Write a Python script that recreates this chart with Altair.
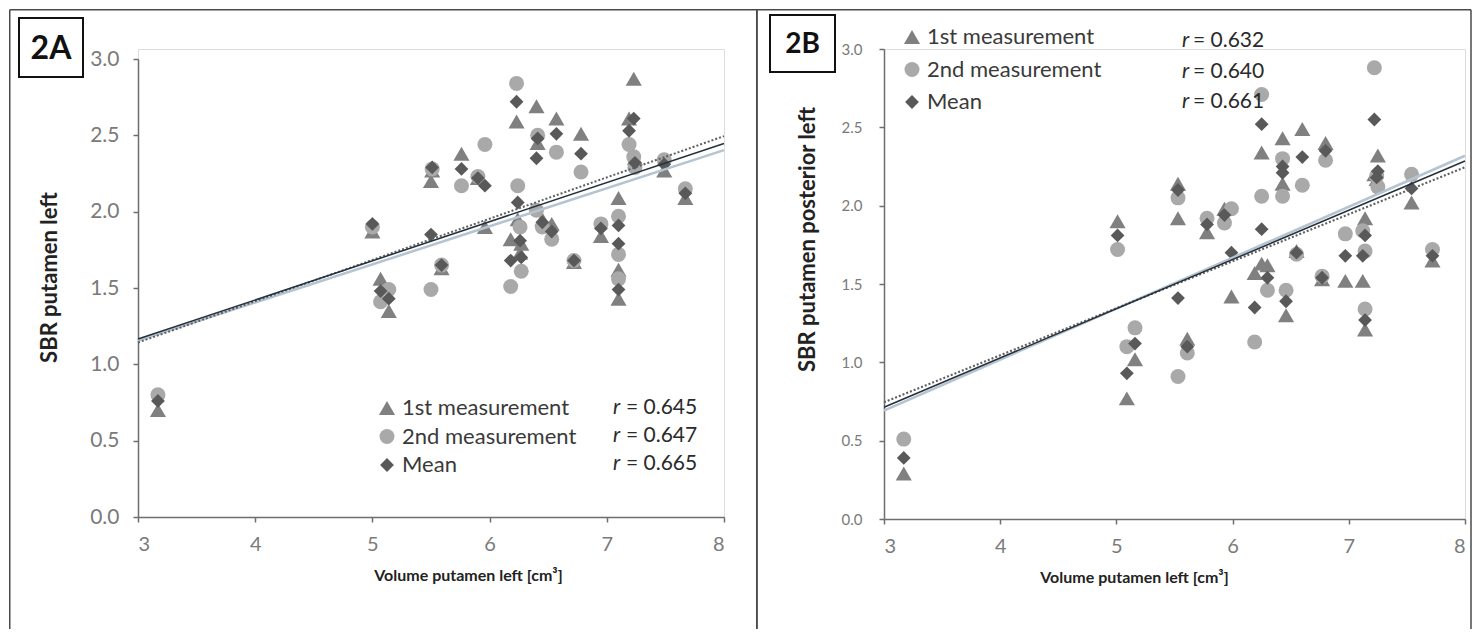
import altair as alt
import pandas as pd

SERIES = ["1st measurement", "2nd measurement", "Mean"]
SHAPES = ["triangle-up", "circle", "diamond"]
COLORS = ["#808080", "#a9a9a9", "#595959"]
SIZES = [260, 190, 210]

# ---------------- Panel 2A : SBR putamen left ----------------
A_volume = [3.17, 5.00, 5.07, 5.14, 5.50, 5.51, 5.59, 5.76, 5.90, 5.96,
            6.23, 6.24, 6.26, 6.18, 6.27, 6.40, 6.41, 6.45, 6.53, 6.57,
            6.72, 6.78, 6.95, 7.10, 7.10, 7.10, 7.23, 7.19, 7.24, 7.49, 7.67]
A_first = [0.70, 1.87, 1.56, 1.35, 2.20, 2.27, 1.63, 2.38, 2.22, 1.90,
           2.59, 1.95, 1.73, 1.82, 1.79, 2.69, 2.45, 1.95, 1.92, 2.61,
           1.67, 2.51, 1.84, 2.09, 1.62, 1.43, 2.87, 2.61, 2.35, 2.27, 2.09]
A_second = [0.80, 1.90, 1.41, 1.49, 1.49, 2.28, 1.65, 2.17, 2.23, 2.44,
            2.84, 2.17, 1.90, 1.51, 1.61, 2.01, 2.50, 1.90, 1.82, 2.39,
            1.68, 2.26, 1.92, 1.72, 1.97, 1.56, 2.36, 2.44, 2.29, 2.34, 2.15]
A_mean = [0.76, 1.92, 1.48, 1.43, 1.85, 2.29, 1.65, 2.28, 2.22, 2.17,
          2.72, 2.06, 1.81, 1.68, 1.70, 2.35, 2.48, 1.93, 1.87, 2.51,
          1.68, 2.38, 1.89, 1.91, 1.79, 1.49, 2.61, 2.53, 2.32, 2.31, 2.12]
A_r = ["0.645", "0.647", "0.665"]

# ---------------- Panel 2B : SBR putamen posterior left ----------------
B_volume = [3.17, 5.01, 5.09, 5.16, 5.53, 5.53, 5.61, 5.78, 5.93, 5.99,
            6.25, 6.25, 6.19, 6.30, 6.43, 6.43, 6.46, 6.55, 6.60, 6.77,
            6.80, 6.97, 7.12, 7.14, 7.14, 7.22, 7.25, 7.24, 7.54, 7.72]
B_first = [0.29, 1.90, 0.77, 1.02, 2.14, 1.92, 1.15, 1.83, 1.98, 1.42,
           2.34, 1.63, 1.57, 1.62, 2.43, 2.14, 1.30, 1.71, 2.49, 1.53,
           2.40, 1.52, 1.52, 1.92, 1.21, 2.20, 2.32, 2.17, 2.02, 1.65]
B_second = [0.51, 1.72, 1.10, 1.22, 2.05, 0.91, 1.06, 1.92, 1.89, 1.98,
            2.71, 2.06, 1.13, 1.46, 2.06, 2.30, 1.46, 1.69, 2.13, 1.55,
            2.29, 1.82, 1.84, 1.71, 1.34, 2.88, 2.12, 2.19, 2.20, 1.72]
B_mean = [0.39, 1.81, 0.93, 1.12, 2.10, 1.41, 1.10, 1.88, 1.94, 1.70,
          2.52, 1.85, 1.35, 1.54, 2.25, 2.21, 1.39, 1.70, 2.31, 1.54,
          2.35, 1.68, 1.68, 1.81, 1.27, 2.55, 2.22, 2.18, 2.11, 1.68]
B_r = ["0.632", "0.640", "0.661"]

X_TICKS = [3, 4, 5, 6, 7, 8]
Y_TICKS = [0.0, 0.5, 1.0, 1.5, 2.0, 2.5, 3.0]

FONT = "Lato"
LINE_STYLES = {
    "1st measurement": dict(color="#5f5f5f", strokeWidth=2, strokeDash=[2, 2]),
    "2nd measurement": dict(color="#b5c4d2", strokeWidth=2.5),
    "Mean": dict(color="#26303b", strokeWidth=1.5),
}


def long_df(vol, first, second, mean):
    rows = []
    for name, vals in zip(SERIES, [first, second, mean]):
        for v, y in zip(vol, vals):
            rows.append({"volume": v, "sbr": y, "series": name})
    return pd.DataFrame(rows)


def deco():
    return alt.Chart(alt.Data(values=[{"k": 0}]))


def panel(df, p):
    legend = alt.Legend(
        orient="none", legendX=p["legX"], legendY=p["legY"], title=None,
        labelFont=FONT, labelFontSize=22, labelColor="#3a3a3a", labelLimit=0,
        symbolSize=210, symbolStrokeWidth=0, rowPadding=p["rowPad"],
        labelOffset=4, padding=0,
    )
    xaxis = alt.Axis(
        values=X_TICKS, format="d", title="Volume putamen left [cm³]",
        labelFont=FONT, labelFontSize=20, labelColor="#7a7a7a", labelPadding=12,
        tickSize=5, tickColor="#6e6e6e", domainColor="#6e6e6e", domainWidth=1.5,
        tickWidth=1.5, grid=False,
        titleFont=FONT, titleFontSize=16, titleFontWeight="bold", titleColor="#222222",
        titleX=p["xtX"], titleY=p["xtY"], titleBaseline="middle", titleAlign="center",
    )
    yaxis = alt.Axis(
        values=Y_TICKS, format=".1f", title=p["ytitle"],
        labelFont=FONT, labelFontSize=p["ylab"], labelColor="#7a7a7a", labelPadding=p["ylabPad"],
        tickSize=5, tickColor="#6e6e6e", domainColor="#6e6e6e", domainWidth=1.5,
        tickWidth=1.5, grid=False,
        titleFont=FONT, titleFontSize=22, titleFontWeight="bold", titleColor="#222222",
        titleX=p["ytX"], titleY=p["ytY"], titleBaseline="middle", titleAlign="center",
        titleAngle=270,
    )
    xs = alt.Scale(domain=[3, 8], nice=False, zero=False)
    ys = alt.Scale(domain=[0, 3], nice=False, zero=False, range=p["yrange"])

    layers = []
    pts = alt.Chart(df).mark_point(filled=True, opacity=1, strokeWidth=0).encode(
        x=alt.X("volume:Q", scale=xs, axis=xaxis),
        y=alt.Y("sbr:Q", scale=ys, axis=yaxis),
        shape=alt.Shape("series:N", scale=alt.Scale(domain=SERIES, range=SHAPES), legend=legend),
        color=alt.Color("series:N", scale=alt.Scale(domain=SERIES, range=COLORS), legend=legend),
        size=alt.Size("series:N", scale=alt.Scale(domain=SERIES, range=SIZES), legend=None),
    )
    layers.append(pts)

    # regression lines
    for s in ["2nd measurement", "1st measurement", "Mean"]:
        layers.append(
            alt.Chart(df).transform_filter(alt.datum.series == s)
            .transform_regression("volume", "sbr", extent=[3, 8])
            .mark_line(**LINE_STYLES[s])
            .encode(x=alt.X("volume:Q", scale=xs, axis=xaxis),
                    y=alt.Y("sbr:Q", scale=ys, axis=yaxis))
        )

    # frame lines
    W = p["right"]
    layers.append(deco().mark_rule(color="#4a4a4a", strokeWidth=1.5).encode(
        x=alt.value(p["left"]), x2=alt.value(W), y=alt.value(-39.25)))
    layers.append(deco().mark_rule(color="#4a4a4a", strokeWidth=1.5).encode(
        x=alt.value(p["left"]), y=alt.value(-39.25), y2=alt.value(580)))
    layers.append(deco().mark_rule(color="#4a4a4a", strokeWidth=1.5).encode(
        x=alt.value(W), y=alt.value(-39.25), y2=alt.value(580)))

    # correlation coefficients
    for i, rv in enumerate(p["r"]):
        yy = p["rY"][i]
        layers.append(deco().mark_text(font=FONT, fontSize=21, fontStyle="italic", align="left",
                                       baseline="middle", color="#2a2a2a").encode(
            x=alt.value(p["rX"]), y=alt.value(yy), text=alt.value("r")))
        layers.append(deco().mark_text(font=FONT, fontSize=21, align="left",
                                       baseline="middle", color="#2a2a2a").encode(
            x=alt.value(p["rX"] + p["eqDx"]), y=alt.value(yy), text=alt.value("= " + rv)))

    # panel label box
    bx = p["box"]
    layers.append(deco().mark_rect(fill="white", stroke="#111111", strokeWidth=2).encode(
        x=alt.value(bx[0]), x2=alt.value(bx[1]), y=alt.value(bx[2]), y2=alt.value(bx[3])))
    layers.append(deco().mark_text(font=FONT, fontSize=p["lblSize"], fontWeight="bold",
                                   align="center", baseline="middle", color="#111111").encode(
        x=alt.value((bx[0] + bx[1]) / 2), y=alt.value((bx[2] + bx[3]) / 2 + 1),
        text=alt.value(p["label"])))

    return alt.layer(*layers).properties(width=p["w"], height=p["h"])


dfA = long_df(A_volume, A_first, A_second, A_mean)
dfB = long_df(B_volume, B_first, B_second, B_mean)

pA = dict(w=586, h=468, yrange=[468, 10], ytitle="SBR putamen left", ylab=21, ylabPad=14,
          ytX=-89, ytY=228, xtX=330, xtY=58, legX=238, legY=348, rowPad=6.5,
          r=A_r, rX=475, eqDx=13, rY=[359, 387, 415],
          box=[-119, -55, -31, 28], label="2A", lblSize=32, left=-128.25, right=619)
pB = dict(w=581, h=470, yrange=[470, 0], ytitle="SBR putamen posterior left", ylab=15, ylabPad=17,
          ytX=-77, ytY=190, xtX=250, xtY=58, legX=17, legY=-23, rowPad=10.5,
          r=B_r, rX=298, eqDx=11, rY=[-8, 23, 53],
          box=[-114, -49, -34, 23], label="2B", lblSize=28, left=-127.25, right=587)

chart = alt.hconcat(panel(dfA, pA), panel(dfB, pB), spacing=-4).resolve_scale(
    color="independent", shape="independent", size="independent"
).properties(padding=0).configure_view(strokeWidth=0, stroke="transparent").configure(background="white")

chart.save("out.html", embed_options={"renderer": "svg", "actions": False})
